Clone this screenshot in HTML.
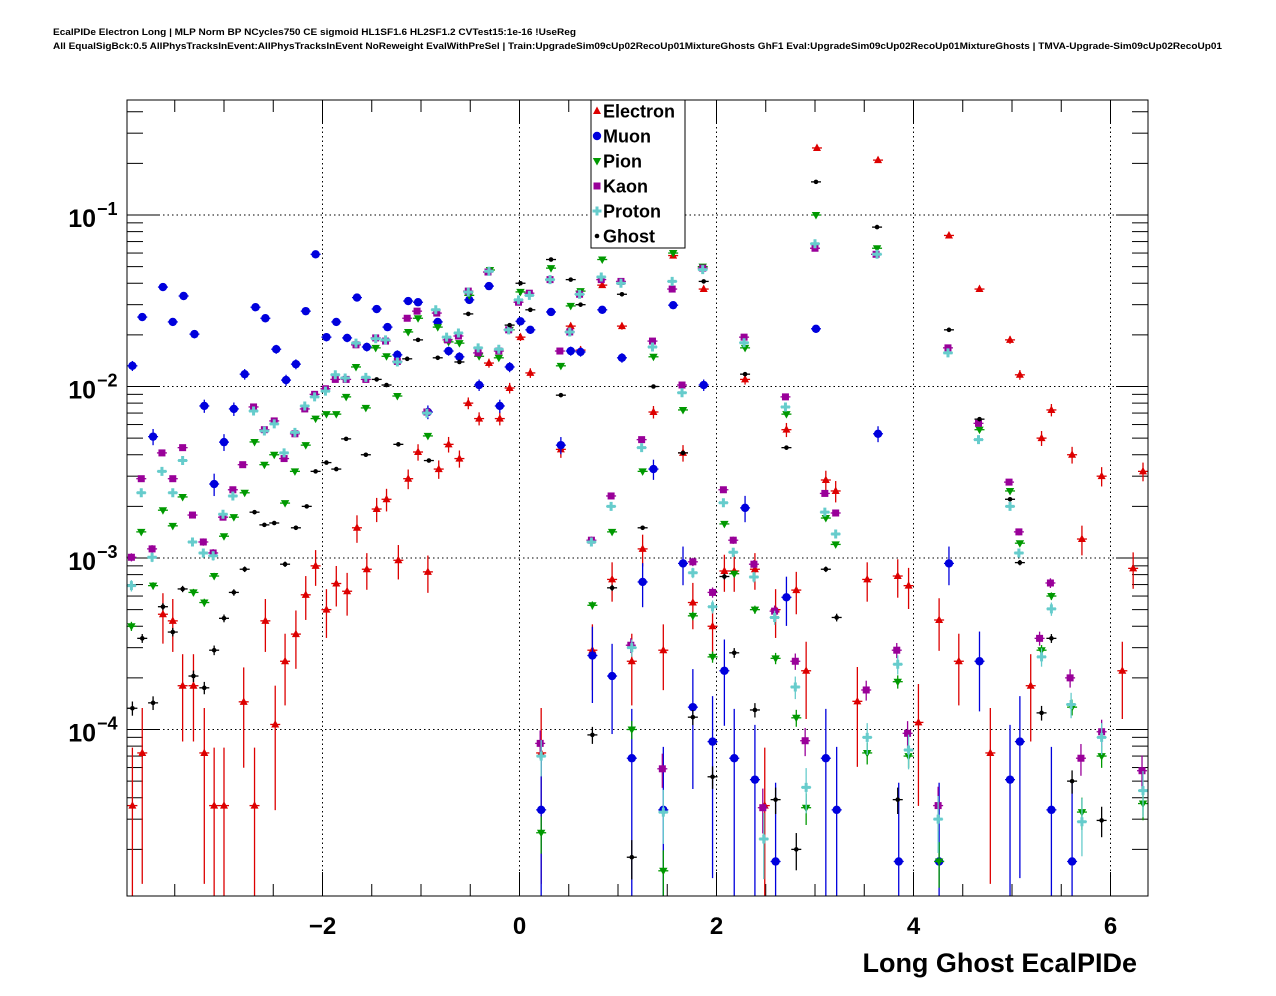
<!DOCTYPE html>
<html><head><meta charset="utf-8"><title>EcalPIDe</title>
<style>
html,body{margin:0;padding:0;background:#fff;}
svg{display:block;font-family:"Liberation Sans",Arial,sans-serif;}
</style></head>
<body>
<svg id="chart" width="1276" height="996" viewBox="0 0 1276 996" xmlns="http://www.w3.org/2000/svg">
<rect x="0" y="0" width="1276" height="996" fill="#fff"/>
<text x="53" y="35" font-size="9.5" font-weight="bold" textLength="523" lengthAdjust="spacingAndGlyphs">EcalPIDe Electron Long | MLP Norm BP NCycles750 CE sigmoid HL1SF1.6 HL2SF1.2 CVTest15:1e-16 !UseReg</text>
<text x="53" y="49" font-size="9.5" font-weight="bold" textLength="1169" lengthAdjust="spacingAndGlyphs">All EqualSigBck:0.5 AllPhysTracksInEvent:AllPhysTracksInEvent NoReweight EvalWithPreSel | Train:UpgradeSim09cUp02RecoUp01MixtureGhosts GhF1 Eval:UpgradeSim09cUp02RecoUp01MixtureGhosts | TMVA-Upgrade-Sim09cUp02RecoUp01</text>
<g id="grid"></g>
<g id="axes"></g>
<g id="series"></g>
<rect x="127" y="100" width="1021" height="796" fill="none" stroke="#000" stroke-width="1"/>
<text x="1137" y="972" font-size="27" font-weight="bold" text-anchor="end">Long Ghost EcalPIDe</text>
<g id="legend"></g>
</svg>
<script>
// ---- data ----
const xTickLabels = [-2, 0, 2, 4, 6];
const yDecades = [-1, -2, -3, -4];
const seriesNames = ["Electron","Muon","Pion","Kaon","Proton","Ghost"];

const electronX = [-3.93,-3.83,-3.62,-3.52,-3.42,-3.31,-3.20,-3.10,-3.00,-2.80,-2.69,-2.58,-2.48,-2.38,-2.27,-2.17,-2.07,-1.96,-1.86,-1.75,-1.65,-1.55,-1.45,-1.35,-1.23,-1.13,-1.03,-0.93,-0.82,-0.72,-0.61,-0.52,-0.41,-0.31,-0.20,-0.10,0.01,0.11,0.22,0.42,0.52,0.62,0.74,0.84,0.94,1.04,1.14,1.25,1.36,1.46,1.56,1.66,1.76,1.87,1.96,2.08,2.18,2.29,2.39,2.49,2.60,2.71,2.81,2.91,3.02,3.11,3.21,3.43,3.53,3.64,3.84,3.95,4.05,4.26,4.36,4.46,4.67,4.78,4.98,5.08,5.19,5.30,5.40,5.61,5.71,5.91,6.12,6.23,6.33];
const electronY = [3.6e-5,7.3e-5,4.7e-4,4.3e-4,1.8e-4,1.8e-4,7.3e-5,3.6e-5,3.6e-5,1.45e-4,3.6e-5,4.3e-4,1.07e-4,2.5e-4,3.6e-4,6.1e-4,9e-4,5.0e-4,7.1e-4,6.4e-4,1.5e-3,8.6e-4,1.93e-3,2.2e-3,9.7e-4,2.9e-3,4.15e-3,8.3e-4,3.3e-3,4.6e-3,3.8e-3,8.0e-3,6.5e-3,1.37e-2,6.5e-3,9.8e-3,1.94e-2,1.2e-2,7.3e-5,4.3e-3,2.25e-2,1.63e-2,2.9e-4,3.9e-2,7.5e-4,2.25e-2,2.5e-4,1.13e-3,7.1e-3,2.9e-4,5.8e-2,4.1e-3,5.5e-4,3.7e-2,4.0e-4,8.4e-4,8.4e-4,1.1e-2,8.6e-4,3.6e-5,5.0e-4,5.6e-3,6.5e-4,2.2e-4,0.246,2.85e-3,2.46e-3,1.46e-4,7.5e-4,0.209,7.85e-4,6.9e-4,1.1e-4,4.35e-4,7.6e-2,2.5e-4,3.7e-2,7.3e-5,1.87e-2,1.17e-2,1.8e-4,5.0e-3,7.3e-3,4.0e-3,1.29e-3,3.0e-3,2.2e-4,8.7e-4,3.2e-3];

const muonX = [-3.93,-3.83,-3.72,-3.62,-3.52,-3.41,-3.30,-3.20,-3.10,-3.00,-2.90,-2.79,-2.68,-2.58,-2.47,-2.37,-2.27,-2.17,-2.07,-1.96,-1.86,-1.75,-1.65,-1.55,-1.45,-1.34,-1.24,-1.13,-1.03,-0.93,-0.83,-0.72,-0.61,-0.51,-0.41,-0.31,-0.20,-0.10,0.01,0.11,0.22,0.32,0.42,0.52,0.62,0.74,0.84,0.94,1.04,1.14,1.25,1.36,1.46,1.56,1.66,1.76,1.87,1.96,2.08,2.18,2.29,2.39,2.60,2.71,3.01,3.11,3.22,3.64,3.85,4.26,4.36,4.67,4.98,5.08,5.40,5.61];
const muonY = [1.32e-2,2.54e-2,5.1e-3,3.8e-2,2.38e-2,3.37e-2,2.02e-2,7.7e-3,2.7e-3,4.74e-3,7.4e-3,1.18e-2,2.9e-2,2.5e-2,1.65e-2,1.09e-2,1.35e-2,2.75e-2,5.9e-2,1.94e-2,2.38e-2,1.92e-2,3.3e-2,1.7e-2,2.83e-2,2.22e-2,1.53e-2,3.15e-2,3.1e-2,7.1e-3,2.38e-2,1.61e-2,1.49e-2,3.2e-2,1.02e-2,3.85e-2,7.7e-3,1.3e-2,2.4e-2,2.14e-2,3.4e-5,2.72e-2,4.55e-3,1.61e-2,1.59e-2,2.7e-4,2.8e-2,2.05e-4,1.47e-2,6.8e-5,7.25e-4,3.3e-3,3.4e-5,2.98e-2,9.3e-4,1.35e-4,1.02e-2,8.5e-5,2.2e-4,6.8e-5,1.96e-3,5.1e-5,1.7e-5,5.9e-4,2.17e-2,6.8e-5,3.4e-5,5.3e-3,1.7e-5,1.7e-5,9.3e-4,2.5e-4,5.1e-5,8.5e-5,3.4e-5,1.7e-5];

const pionX = [-3.94,-3.84,-3.72,-3.62,-3.52,-3.42,-3.31,-3.20,-3.10,-3.00,-2.90,-2.79,-2.69,-2.59,-2.49,-2.38,-2.28,-2.17,-2.07,-1.96,-1.86,-1.76,-1.66,-1.56,-1.46,-1.35,-1.24,-1.13,-1.03,-0.93,-0.83,-0.72,-0.61,-0.51,-0.41,-0.30,-0.21,-0.10,0.01,0.22,0.32,0.42,0.52,0.62,0.74,0.84,0.94,1.14,1.25,1.36,1.46,1.56,1.66,1.76,1.86,1.96,2.08,2.18,2.29,2.39,2.60,2.71,2.81,2.91,3.01,3.11,3.21,3.53,3.63,3.84,3.95,4.26,4.67,4.98,5.08,5.30,5.40,5.61,5.71,5.91,6.33];
const pionY = [4.0e-4,1.42e-3,6.9e-4,1.9e-3,1.54e-3,2.27e-3,6.3e-4,5.5e-4,7.85e-4,1.34e-3,1.73e-3,2.4e-3,4.75e-3,3.5e-3,4.0e-3,2.09e-3,3.2e-3,4.55e-3,6.5e-3,6.9e-3,6.9e-3,8.7e-3,1.3e-2,7.5e-3,1.68e-2,1.5e-2,8.8e-3,2.08e-2,2.5e-2,5.15e-3,2.22e-2,1.82e-2,1.79e-2,3.4e-2,1.5e-2,4.78e-2,1.47e-2,2.14e-2,3.56e-2,2.5e-5,4.9e-2,1.32e-2,2.95e-2,3.6e-2,5.3e-4,5.5e-2,1.42e-3,1.0e-4,3.2e-3,1.49e-2,1.5e-5,6.0e-2,7.3e-3,4.6e-4,5.0e-2,2.65e-4,1.58e-3,8.1e-4,1.68e-2,5.0e-4,2.6e-4,6.9e-3,1.17e-4,3.5e-5,0.1,1.71e-3,1.2e-3,7.3e-5,6.4e-2,1.9e-4,7.0e-5,1.7e-5,5.6e-3,2.46e-3,1.22e-3,2.9e-4,6.0e-4,1.35e-4,3.3e-5,7.0e-5,3.7e-5];

const kaonX = [-3.94,-3.84,-3.73,-3.63,-3.52,-3.42,-3.32,-3.21,-3.11,-3.01,-2.91,-2.81,-2.70,-2.59,-2.49,-2.39,-2.28,-2.18,-2.08,-1.97,-1.87,-1.76,-1.66,-1.56,-1.46,-1.36,-1.24,-1.14,-1.04,-0.94,-0.84,-0.73,-0.62,-0.52,-0.42,-0.32,-0.21,-0.11,-0.01,0.10,0.21,0.31,0.41,0.51,0.61,0.73,0.83,0.93,1.03,1.13,1.24,1.35,1.45,1.55,1.65,1.76,1.86,1.96,2.07,2.17,2.28,2.38,2.47,2.59,2.70,2.80,2.90,3.00,3.10,3.21,3.52,3.62,3.83,3.94,4.25,4.35,4.66,4.97,5.07,5.28,5.39,5.59,5.70,5.91,6.32];
const kaonY = [1.01e-3,2.9e-3,1.13e-3,4.1e-3,2.9e-3,4.4e-3,1.78e-3,1.24e-3,1.07e-3,1.73e-3,2.5e-3,3.5e-3,7.6e-3,5.6e-3,6.3e-3,3.8e-3,5.3e-3,7.4e-3,9.0e-3,9.7e-3,1.1e-2,1.1e-2,1.75e-2,1.1e-2,1.92e-2,1.84e-2,1.4e-2,2.5e-2,2.75e-2,7.1e-3,2.68e-2,1.87e-2,1.97e-2,3.6e-2,1.57e-2,4.65e-2,1.61e-2,2.14e-2,3.1e-2,3.5e-2,8.3e-5,4.2e-2,1.61e-2,2.08e-2,3.45e-2,1.27e-3,4.2e-2,2.3e-3,4.1e-2,3.1e-4,4.9e-3,1.84e-2,5.9e-5,3.7e-2,1.02e-2,9.5e-4,4.9e-2,6.3e-4,2.5e-3,1.27e-3,1.94e-2,9.2e-4,3.5e-5,4.9e-4,8.7e-3,2.5e-4,8.6e-5,6.4e-2,2.38e-3,1.83e-3,1.7e-4,5.9e-2,2.9e-4,9.5e-5,3.6e-5,1.68e-2,6.1e-3,2.77e-3,1.42e-3,3.4e-4,7.15e-4,2.0e-4,6.8e-5,9.7e-5,5.75e-5];

const protonX = [-3.94,-3.84,-3.73,-3.63,-3.52,-3.42,-3.32,-3.21,-3.11,-3.01,-2.91,-2.70,-2.59,-2.49,-2.39,-2.28,-2.18,-2.08,-1.97,-1.87,-1.77,-1.66,-1.56,-1.46,-1.36,-1.24,-0.94,-0.85,-0.74,-0.62,-0.52,-0.42,-0.31,-0.21,-0.11,-0.01,0.10,0.22,0.31,0.51,0.61,0.73,0.83,0.93,1.03,1.14,1.24,1.35,1.46,1.55,1.65,1.76,1.86,1.96,2.07,2.17,2.28,2.38,2.48,2.59,2.70,2.80,2.91,3.00,3.10,3.21,3.53,3.63,3.84,3.95,4.25,4.35,4.66,4.98,5.07,5.30,5.40,5.60,5.71,5.91,6.33];
const protonY = [6.9e-4,2.4e-3,1.01e-3,3.2e-3,2.4e-3,3.7e-3,1.24e-3,1.07e-3,1.03e-3,1.8e-3,2.3e-3,7.2e-3,5.5e-3,6.05e-3,4.1e-3,5.4e-3,7.7e-3,8.7e-3,9.4e-3,1.17e-2,1.12e-2,1.79e-2,1.13e-2,1.9e-2,1.87e-2,1.39e-2,7.0e-3,2.8e-2,1.94e-2,2.05e-2,3.55e-2,1.68e-2,4.7e-2,1.65e-2,2.14e-2,3.2e-2,3.4e-2,7.0e-5,4.2e-2,2.08e-2,3.45e-2,1.24e-3,4.35e-2,2.0e-3,4.0e-2,3.0e-4,4.4e-3,1.7e-2,3.3e-5,4.1e-2,9.2e-3,8.2e-4,4.8e-2,5.2e-4,2.1e-3,1.08e-3,1.8e-2,7.75e-4,2.3e-5,4.5e-4,7.6e-3,1.77e-4,4.6e-5,6.8e-2,1.85e-3,1.38e-3,9.0e-5,5.9e-2,2.4e-4,7.6e-5,3.0e-5,1.57e-2,4.9e-3,2.0e-3,1.07e-3,2.65e-4,5.05e-4,1.4e-4,2.9e-5,9.0e-5,4.4e-5];

const ghostX = [-3.93,-3.83,-3.72,-3.62,-3.52,-3.42,-3.31,-3.20,-3.10,-3.00,-2.90,-2.79,-2.69,-2.59,-2.49,-2.38,-2.27,-2.16,-2.07,-1.96,-1.86,-1.76,-1.56,-1.45,-1.35,-1.23,-1.14,-1.03,-0.92,-0.83,-0.61,-0.52,-0.10,0.01,0.11,0.32,0.42,0.52,0.62,0.74,0.94,1.04,1.14,1.25,1.36,1.66,1.76,1.87,1.96,2.08,2.18,2.29,2.39,2.60,2.71,2.81,3.01,3.11,3.22,3.63,3.84,4.36,4.67,4.98,5.08,5.30,5.40,5.61,5.91];
const ghostY = [1.33e-4,3.4e-4,1.43e-4,5.2e-4,3.7e-4,6.6e-4,2.05e-4,1.75e-4,2.9e-4,4.45e-4,6.3e-4,8.6e-4,1.85e-3,1.56e-3,1.6e-3,9.2e-4,1.5e-3,2.0e-3,3.2e-3,3.6e-3,3.3e-3,4.95e-3,4.0e-3,1.1e-2,1.02e-2,4.6e-3,1.45e-2,1.87e-2,3.7e-3,1.47e-2,1.39e-2,2.65e-2,2.28e-2,4.0e-2,2.8e-2,5.5e-2,8.9e-3,4.2e-2,3.0e-2,9.3e-5,6.7e-4,3.45e-2,1.8e-5,1.5e-3,1.0e-2,4.1e-3,1.18e-4,4.1e-2,5.3e-5,7.8e-4,2.8e-4,1.18e-2,1.3e-4,3.9e-5,4.4e-3,2.0e-5,0.156,8.6e-4,4.5e-4,8.5e-2,3.9e-5,2.14e-2,6.45e-3,2.2e-3,9.4e-4,1.25e-4,3.4e-4,5.0e-5,2.95e-5];

// ---- geometry ----
const X0 = 127, X1 = 1148, Y0 = 100, Y1 = 896;
const PXU = 98.5, XZ = 519.5;       // pixels per unit, pixel of x=0
const PXD = 171.5, YD = 215;        // pixels per decade, pixel of 1e-1
const SVGNS = "http://www.w3.org/2000/svg";
function sx(x){ return XZ + x*PXU; }
function sy(v){ return YD - (Math.log10(v)+1)*PXD; }
function mk(tag, attrs, parent){
  const e = document.createElementNS(SVGNS, tag);
  for (const k in attrs) e.setAttribute(k, attrs[k]);
  parent.appendChild(e); return e;
}
const grid = document.getElementById('grid');
const axes = document.getElementById('axes');
const ser = document.getElementById('series');
const leg = document.getElementById('legend');

// grid
xTickLabels.forEach(t => {
  const l = mk('line', {x1:sx(t), x2:sx(t), y1:Y0, y2:Y1, stroke:'#000', 'stroke-width':1, 'stroke-dasharray':'1.5,3'}, grid);
  
  
});
yDecades.forEach(d => {
  const y = sy(Math.pow(10,d));
  const l = mk('line', {x1:X0, x2:X1, y1:y, y2:y, stroke:'#000', 'stroke-width':1, 'stroke-dasharray':'1.5,3'}, grid);
  
  
});

// x ticks
for (let t = -4; t <= 6.4001; t += 0.5) {
  const x = sx(t);
  if (x < X0 || x > X1) continue;
  const major = Math.abs(t/2 - Math.round(t/2)) < 1e-6;
  const len = major ? 24 : 12;
  const a = mk('line', {x1:x, x2:x, y1:Y1, y2:Y1-len, stroke:'#000', 'stroke-width':1}, axes);
  
  
  const b = mk('line', {x1:x, x2:x, y1:Y0, y2:Y0+len, stroke:'#000', 'stroke-width':1}, axes);
  
  
}
xTickLabels.forEach(t => {
  const tx = mk('text', {x:sx(t), y:934, 'font-size':24, 'font-weight':'bold', 'text-anchor':'middle'}, axes);
  tx.textContent = t < 0 ? '\u2212' + Math.abs(t) : String(t);
  
  
});

// y ticks
for (let d = -6; d <= 0; d++) {
  for (let m = 1; m <= 9; m++) {
    const y = sy(m*Math.pow(10,d));
    if (y < Y0 || y > Y1) continue;
    const len = m === 1 ? 32 : 16;
    const a = mk('line', {x1:X0, x2:X0+len, y1:y, y2:y, stroke:'#000', 'stroke-width':1}, axes);
    
    
    const b = mk('line', {x1:X1, x2:X1-len, y1:y, y2:y, stroke:'#000', 'stroke-width':1}, axes);
    
    
  }
}
yDecades.forEach(d => {
  const y = sy(Math.pow(10,d));
  const tx = mk('text', {x:96, y:y+12, 'font-size':25, 'font-weight':'bold', 'text-anchor':'end'}, axes);
  tx.textContent = '10';
  
  
  const sp = mk('text', {x:97, y:y-0, 'font-size':18, 'font-weight':'bold', 'text-anchor':'start'}, axes);
  sp.textContent = '\u2212' + Math.abs(d);
  
  
});

// markers
function marker(kind, cx, cy, color, parent){
  let e;
  if (kind === 'tri') e = mk('polygon', {points:`${cx},${cy-4.5} ${cx-4},${cy+3} ${cx+4},${cy+3}`, fill:color}, parent);
  else if (kind === 'circ') e = mk('circle', {cx:cx, cy:cy, r:4.2, fill:color}, parent);
  else if (kind === 'itri') e = mk('polygon', {points:`${cx-4.2},${cy-3} ${cx+4.2},${cy-3} ${cx},${cy+4.5}`, fill:color}, parent);
  else if (kind === 'sq') e = mk('rect', {x:cx-3.5, y:cy-3.5, width:7, height:7, fill:color}, parent);
  else if (kind === 'cross') e = mk('path', {d:`M${cx-4.5},${cy-1.5}h3v-3h3v3h3v3h-3v3h-3v-3h-3z`, fill:color}, parent);
  else e = mk('circle', {cx:cx, cy:cy, r:2.3, fill:color}, parent);
  return e;
}
const seriesDefs = [
  {name:'electron', xs:electronX, ys:electronY, color:'#dd0000', kind:'tri', w:5e-5},
  {name:'muon', xs:muonX, ys:muonY, color:'#0000dd', kind:'circ', w:6e-5},
  {name:'pion', xs:pionX, ys:pionY, color:'#009900', kind:'itri', w:1.5e-6},
  {name:'kaon', xs:kaonX, ys:kaonY, color:'#990099', kind:'sq', w:3e-6},
  {name:'proton', xs:protonX, ys:protonY, color:'#66cccc', kind:'cross', w:4e-6},
  {name:'ghost', xs:ghostX, ys:ghostY, color:'#000000', kind:'dot', w:1.2e-6}
];
seriesDefs.forEach(s => {
  const g = mk('g', {}, ser);
  
  
  for (let i = 0; i < s.xs.length; i++) {
    const v = s.ys[i];
    const cx = sx(s.xs[i]), cy = sy(v);
    const err = Math.sqrt(v*s.w);
    const up = sy(v+err);
    const dn = v-err > 1e-7 ? Math.min(sy(v-err), Y1) : Y1;
    const pg = mk('g', {}, g);
    
    
    mk('line', {x1:cx, x2:cx, y1:Math.max(up,Y0), y2:dn, stroke:s.color, 'stroke-width':1.3}, pg);
    mk('line', {x1:cx-5, x2:cx+5, y1:cy, y2:cy, stroke:s.color, 'stroke-width':1.3}, pg);
    marker(s.kind, cx, cy, s.color, pg);
  }
});

// legend
mk('rect', {x:591, y:100, width:94, height:148, fill:'#fff', stroke:'#000', 'stroke-width':1}, leg);
seriesDefs.forEach((s, i) => {
  const y = 111 + i*25;
  const eg = mk('g', {}, leg);
  
  
  marker(s.kind, 597, y, s.color, eg);
  const t = mk('text', {x:603, y:y+6.5, 'font-size':18, 'font-weight':'bold'}, eg);
  t.textContent = seriesNames[i];
});
</script>
</body></html>
